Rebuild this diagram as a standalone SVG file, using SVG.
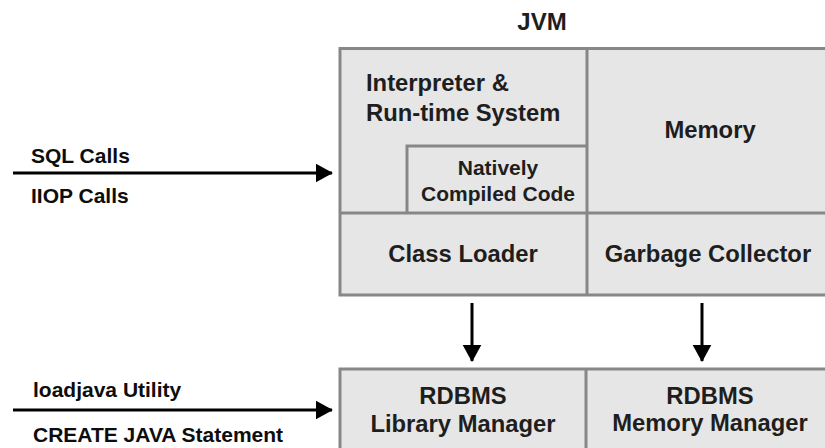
<svg xmlns="http://www.w3.org/2000/svg" width="825" height="448" viewBox="0 0 825 448">
  <defs>
    <marker id="arrowhead" markerWidth="5.8" markerHeight="6.4" refX="5.5" refY="3.2" orient="auto" markerUnits="strokeWidth" viewBox="0 0 5.8 6.4">
      <path d="M0,0 L5.8,3.2 L0,6.4 z" fill="#000"/>
    </marker>
  </defs>
  <style>
    .box { fill: #e6e6e6; stroke: #878787; stroke-width: 3; }
    .div { stroke: #878787; stroke-width: 3; fill: none; }
    .t { font-family: "Liberation Sans", Arial, sans-serif; font-weight: bold; fill: #1e1e1e; }
    .big { font-size: 23.8px; text-anchor: middle; }
    .mid { font-size: 21px; text-anchor: middle; }
    .lbl { font-size: 21px; fill: #0d0d0d; }
    .conn { stroke: #000; stroke-width: 3; fill: none; marker-end: url(#arrowhead); }
  </style>

  <text class="t" x="542" y="30" font-size="24" text-anchor="middle">JVM</text>

  <!-- JVM block -->
  <g id="jvm">
    <rect class="box" x="340" y="48.5" width="520" height="246.5"/>
    <line class="div" x1="587" y1="48.5" x2="587" y2="295"/>
    <line class="div" x1="340" y1="213" x2="860" y2="213"/>
  </g>

  <g id="interpreter">
    <text class="t" x="366" y="91" font-size="23.8">Interpreter &amp;</text>
    <text class="t" x="366" y="121" font-size="23.8">Run-time System</text>
  </g>

  <g id="native-code">
    <polyline class="div" points="407,213 407,146 587,146"/>
    <text class="t mid" x="498" y="175">Natively</text>
    <text class="t mid" x="498" y="201">Compiled Code</text>
  </g>

  <g id="memory">
    <text class="t big" x="710" y="138">Memory</text>
  </g>

  <g id="class-loader">
    <text class="t big" x="463" y="262">Class Loader</text>
  </g>

  <g id="garbage-collector">
    <text class="t big" x="708" y="262">Garbage Collector</text>
  </g>

  <!-- RDBMS block -->
  <g id="rdbms">
    <rect class="box" x="340" y="369" width="520" height="100"/>
    <line class="div" x1="586" y1="369" x2="586" y2="469"/>
  </g>

  <g id="library-manager">
    <text class="t big" x="463" y="404">RDBMS</text>
    <text class="t big" x="463" y="432">Library Manager</text>
  </g>

  <g id="memory-manager">
    <text class="t big" x="710" y="404">RDBMS</text>
    <text class="t big" x="710" y="431">Memory Manager</text>
  </g>

  <!-- incoming labels -->
  <g id="call-labels">
    <text class="t lbl" x="31" y="163">SQL Calls</text>
    <text class="t lbl" x="31" y="203">IIOP Calls</text>
  </g>
  <g id="load-labels">
    <text class="t lbl" x="33" y="397">loadjava Utility</text>
    <text class="t lbl" x="33" y="442">CREATE JAVA Statement</text>
  </g>

  <g id="connectors">
    <line class="conn" x1="13" y1="173" x2="332" y2="173"/>
    <line class="conn" x1="13" y1="410" x2="332" y2="410"/>
    <line class="conn" x1="472" y1="303" x2="472" y2="361"/>
    <line class="conn" x1="702" y1="303" x2="702" y2="361"/>
  </g>
</svg>
